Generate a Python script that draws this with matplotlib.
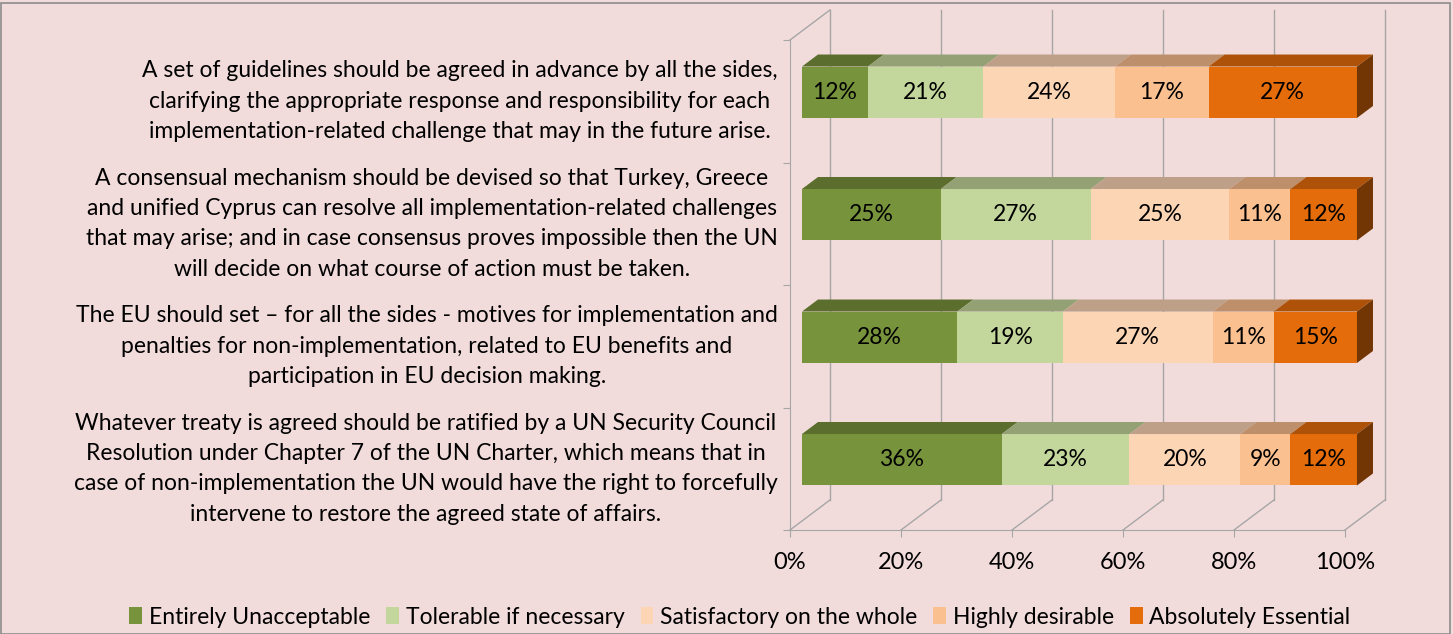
import numpy as np
import matplotlib.pyplot as plt
from matplotlib.patches import Polygon, Rectangle

plt.rcParams['font.family'] = ['Lato', 'DejaVu Sans']

categories = [
    "A set of guidelines should be agreed in advance by all the sides,\n"
    "clarifying the appropriate response and responsibility for each\n"
    "implementation-related challenge that may in the future arise.",
    "A consensual mechanism should be devised so that Turkey, Greece\n"
    "and unified Cyprus can resolve all implementation-related challenges\n"
    "that may arise; and in case consensus proves impossible then the UN\n"
    "will decide on what course of action must be taken.",
    "The EU should set \u2013 for all the sides - motives for implementation and\n"
    "penalties for non-implementation, related to EU benefits and\n"
    "participation in EU decision making.",
    "Whatever treaty is agreed should be ratified by a UN Security Council\n"
    "Resolution under Chapter 7 of the UN Charter, which means that in\n"
    "case of non-implementation the UN would have the right to forcefully\n"
    "intervene to restore the agreed state of affairs.",
]
series = ["Entirely Unacceptable", "Tolerable if necessary", "Satisfactory on the whole",
          "Highly desirable", "Absolutely Essential"]
unacceptable = [12, 25, 28, 36]
tolerable = [21, 27, 19, 23]
satisfactory = [24, 25, 27, 20]
desirable = [17, 11, 11, 9]
essential = [27, 12, 15, 12]
xticks = [0, 20, 40, 60, 80, 100]

colors = ["#77933C", "#C3D69B", "#FCD5B5", "#FAC090", "#E46C0A"]
top_colors = ["#5B6E2D", "#93A174", "#BE9F88", "#BD8F6B", "#AD5208"]
side_color = "#723605"
bg = "#F2DCDB"
grid = "#A6A6A6"
fs = 16.5

values = np.array([unacceptable, tolerable, satisfactory, desirable, essential], dtype=float)
shares = values / values.sum(axis=0) * 100

# 3d depth offsets in data units
DX, DY = 7.2, 0.245
D0, D1 = 0.3, 0.7
ddx, ddy = (D1 - D0) * DX, (D1 - D0) * DY
h = 0.42

fig = plt.figure(figsize=(14.53, 6.34), dpi=100, facecolor=bg)
ax = fig.add_axes([790 / 1453, (634 - 530) / 634, 555 / 1453, 490 / 634])
ax.set_facecolor('none')
ax.set_xlim(0, 100)
ax.set_ylim(4, 0)

# back wall and floor lines
for t in xticks:
    ax.plot([t + DX, t + DX], [-DY, 4 - DY], color=grid, lw=1, clip_on=False, zorder=1)
    ax.plot([t, t + DX], [4, 4 - DY], color=grid, lw=1, clip_on=False, zorder=1)
ax.plot([0, DX], [0, -DY], color=grid, lw=1, clip_on=False, zorder=1)

yc = np.arange(len(categories)) + 0.5 - D0 * DY
left = np.zeros(len(categories))
for k, name in enumerate(series):
    bars = ax.barh(yc, shares[k], left=left + D0 * DX, height=h, color=colors[k],
                   label=name, zorder=3, clip_on=False)
    for i, b in enumerate(bars):
        x0, x1 = b.get_x(), b.get_x() + b.get_width()
        ytop = b.get_y()
        ax.add_patch(Polygon([(x0, ytop), (x1, ytop), (x1 + ddx, ytop - ddy), (x0 + ddx, ytop - ddy)],
                             closed=True, facecolor=top_colors[k], edgecolor='none',
                             clip_on=False, zorder=3))
        if k == len(series) - 1:
            ybot = ytop + h
            ax.add_patch(Polygon([(x1, ytop), (x1, ybot), (x1 + ddx, ybot - ddy), (x1 + ddx, ytop - ddy)],
                                 closed=True, facecolor=side_color, edgecolor='none',
                                 clip_on=False, zorder=3))
        ax.text(x0 + b.get_width() / 2, yc[i], f"{int(values[k, i])}%", ha='center', va='center',
                fontsize=fs, color='black', zorder=4)
    left += shares[k]

for i, c in enumerate(categories):
    ax.text(-2.2, i + 0.5, c, ha='right', va='center', multialignment='center',
            fontsize=fs, linespacing=1.55)

ax.set_xticks(xticks)
ax.set_xticklabels([f"{t}%" for t in xticks], fontsize=17)
ax.set_yticks(range(5))
ax.set_yticklabels([])
ax.tick_params(axis='both', colors=grid, length=5, labelcolor='black')
ax.tick_params(axis='x', pad=11)
for s in ['top', 'right']:
    ax.spines[s].set_visible(False)
for s in ['left', 'bottom']:
    ax.spines[s].set_color(grid)

fig.legend(loc='center', bbox_to_anchor=(740 / 1453, 1 - 617 / 634), ncol=5, frameon=False,
           fontsize=fs, handlelength=0.55, handleheight=0.8, handletextpad=0.3, columnspacing=0.7)

fig.patches.append(Rectangle((0.001, 0), 0.997, 0.996, transform=fig.transFigure, fill=False,
                             edgecolor='#8C8C8C', lw=1.2))

fig.savefig('out.png', dpi=100, facecolor=bg)
